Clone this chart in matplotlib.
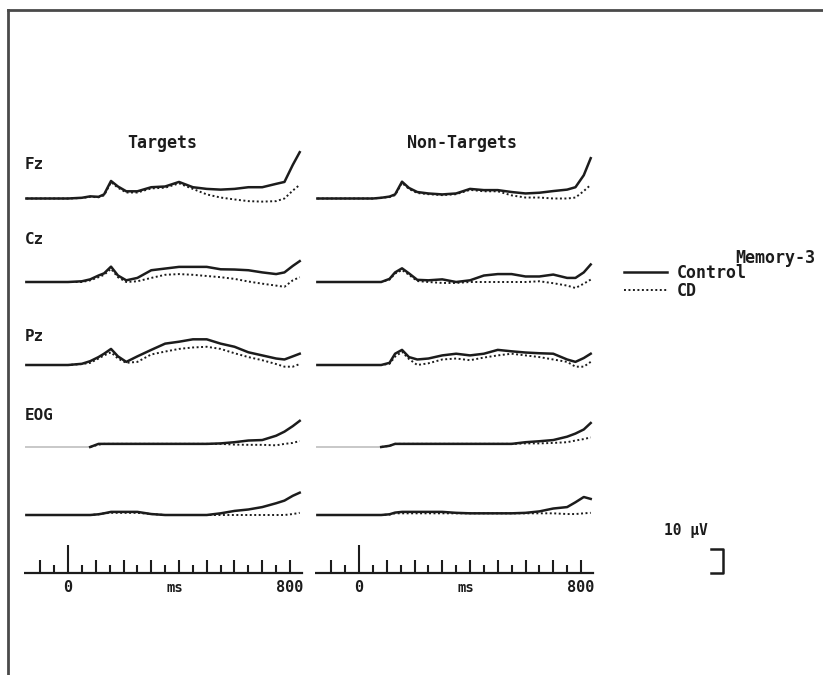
import matplotlib
matplotlib.use("Agg")
import matplotlib.pyplot as plt

W, H, DPI = 823, 675, 100

# sample times (ms)
t = [-150, -100, -50, 0, 50, 80, 110, 130, 155, 180, 210, 250, 300, 350,
     400, 450, 500, 550, 600, 650, 700, 750, 780, 810, 835]

# amplitudes (uV) -- Targets column
fz_tgt_ctrl = [0, 0, 0, 0, 0.3, 0.9, 0.7, 1.7, 7.3, 5.0, 3.0, 3.0, 4.7, 5.0,
               6.9, 4.7, 4.0, 3.7, 4.0, 4.7, 4.7, 6.1, 6.9, 14.0, 19.3]
fz_tgt_cd = [0, 0, 0, 0, 0.2, 0.7, 0.5, 1.3, 6.8, 4.5, 2.5, 2.5, 4.2, 4.5,
             6.3, 4.0, 1.7, 0.4, -0.4, -1.1, -1.3, -1.1, 0.0, 3.3, 5.7]
cz_tgt_ctrl = [0, 0, 0, 0, 0.3, 1.1, 2.7, 3.6, 6.4, 2.7, 0.7, 1.7, 4.9, 5.6,
               6.3, 6.3, 6.3, 5.3, 5.2, 4.9, 4.0, 3.3, 4.0, 6.7, 8.7]
cz_tgt_cd = [0, 0, 0, 0, 0, 0.7, 2.0, 3.0, 5.5, 2.0, 0, 0.3, 1.7, 3.0,
             3.3, 3.0, 2.5, 2.0, 1.3, 0.2, -0.7, -1.5, -2.0, 0.7, 2.0]
pz_tgt_ctrl = [0, 0, 0, 0, 0.5, 1.6, 3.3, 4.7, 6.7, 3.6, 1.3, 3.6, 6.3, 8.9,
               9.7, 10.7, 10.7, 8.9, 7.6, 5.3, 4.0, 2.7, 2.3, 3.6, 4.7]
pz_tgt_cd = [0, 0, 0, 0, 0.4, 0.9, 2.7, 4.0, 5.3, 2.7, 0.9, 1.3, 4.4, 5.6,
             6.7, 7.3, 7.6, 6.7, 4.9, 3.3, 2.0, 0.4, -0.7, -0.7, 0.4]
eog_tgt_ctrl = [0, 0, 0, 0, 0, 0, 1.3, 1.3, 1.3, 1.3, 1.3, 1.3, 1.3, 1.3,
                1.3, 1.3, 1.3, 1.5, 2.0, 2.7, 2.9, 4.7, 6.4, 8.7, 10.9]
eog_tgt_cd = [0, 0, 0, 0, 0, 0, 1.0, 1.3, 1.3, 1.3, 1.3, 1.3, 1.3, 1.3,
              1.3, 1.3, 1.3, 1.3, 1.0, 0.9, 0.9, 0.7, 1.3, 1.7, 2.5]
eog2_tgt_ctrl = [0, 0, 0, 0, 0, 0, 0.3, 0.7, 1.3, 1.3, 1.3, 1.3, 0.4, 0,
                 0, 0, 0, 0.7, 1.7, 2.3, 3.3, 4.9, 6.0, 8.0, 9.3]
eog2_tgt_cd = [0, 0, 0, 0, 0, 0, 0.3, 0.7, 0.9, 0.9, 0.9, 0.9, 0.4, 0,
               0, 0, 0, 0, 0, 0, 0, 0, 0, 0.4, 0.9]

# Non-Targets column
fz_non_ctrl = [0, 0, 0, 0, 0, 0.3, 0.8, 1.7, 7.0, 4.4, 2.7, 2.1, 1.7, 2.1,
               4.0, 3.5, 3.5, 2.7, 2.1, 2.4, 3.1, 3.7, 4.7, 9.7, 16.8]
fz_non_cd = [0, 0, 0, 0, 0, 0.3, 0.6, 1.4, 6.5, 4.0, 2.3, 1.8, 1.4, 1.8,
             3.6, 3.0, 3.0, 1.3, 0.4, 0.4, 0, 0, 0.4, 3.1, 5.7]
cz_non_ctrl = [0, 0, 0, 0, 0, 0, 1.3, 4.0, 5.7, 3.6, 0.9, 0.7, 1.1, 0,
               0.7, 2.7, 3.3, 3.3, 2.3, 2.3, 3.1, 1.7, 1.7, 4.0, 7.3]
cz_non_cd = [0, 0, 0, 0, 0, 0, 1.0, 3.5, 5.0, 3.0, 0.4, 0, -0.4, -0.4,
             0, 0, 0, 0, 0, 0.3, -0.5, -1.5, -2.5, -0.7, 1.0]
pz_non_ctrl = [0, 0, 0, 0, 0, 0, 0.9, 4.7, 6.3, 3.3, 2.3, 2.7, 4.0, 4.7,
               4.0, 4.7, 6.3, 5.7, 5.2, 4.9, 4.7, 2.3, 1.3, 2.9, 4.7]
pz_non_cd = [0, 0, 0, 0, 0, 0, 0.5, 3.5, 5.5, 2.5, 0, 0.7, 2.3, 2.7,
             2.0, 3.1, 4.0, 4.7, 4.0, 3.3, 2.3, 1.3, -0.7, -0.7, 1.3]
eog_non_ctrl = [0, 0, 0, 0, 0, 0, 0.5, 1.3, 1.3, 1.3, 1.3, 1.3, 1.3, 1.3,
                1.3, 1.3, 1.3, 1.3, 2.0, 2.4, 2.9, 4.3, 5.6, 7.3, 10.0]
eog_non_cd = [0, 0, 0, 0, 0, 0, 0.5, 1.3, 1.3, 1.3, 1.3, 1.3, 1.3, 1.3,
              1.3, 1.3, 1.3, 1.3, 1.5, 1.5, 1.7, 2.0, 2.7, 3.3, 4.0]
eog2_non_ctrl = [0, 0, 0, 0, 0, 0, 0.3, 1.0, 1.3, 1.3, 1.3, 1.3, 1.3, 0.9,
                 0.7, 0.7, 0.7, 0.7, 0.9, 1.5, 2.7, 3.3, 5.3, 7.5, 6.7]
eog2_non_cd = [0, 0, 0, 0, 0, 0, 0.2, 0.7, 0.7, 0.7, 0.7, 0.7, 0.7, 0.7,
               0.7, 0.7, 0.7, 0.7, 0.7, 0.7, 0.7, 0.4, 0.4, 0.7, 0.9]

row_labels = ["Fz", "Cz", "Pz", "EOG", ""]
col_titles = ["Targets", "Non-Targets"]
groups = ["Control", "CD"]
panel_title = "Memory-3"
tick_times = list(range(-100, 801, 50))
axis_span = [-155, 843]
scale_uv = 10

columns = [
    [(fz_tgt_ctrl, fz_tgt_cd), (cz_tgt_ctrl, cz_tgt_cd), (pz_tgt_ctrl, pz_tgt_cd),
     (eog_tgt_ctrl, eog_tgt_cd), (eog2_tgt_ctrl, eog2_tgt_cd)],
    [(fz_non_ctrl, fz_non_cd), (cz_non_ctrl, cz_non_cd), (pz_non_ctrl, pz_non_cd),
     (eog_non_ctrl, eog_non_cd), (eog2_non_ctrl, eog2_non_cd)],
]

# layout (pixels)
px_ms = 0.2775
px_uv = 2.4
zero_x = [68, 359]
baselines = [198.5, 282, 365, 447, 515]
label_uv = [14, 17.5, 11.7, 13, 0]
time_axis_y = 573
t_lo, t_hi = -160, 850
uv_lo, uv_hi = -8, 26
# the first EOG trace is printed faintly before the stimulus response
faint_before = [None, None, None, 80, None]

ink = "#1c1c1c"
font = dict(family="DejaVu Sans Mono", weight="bold", color=ink)

fig = plt.figure(figsize=(W / DPI, H / DPI), dpi=DPI)


def px_axes(x0, x1, ytop, ybot):
    ax = fig.add_axes([x0 / W, 1 - ybot / H, (x1 - x0) / W, (ybot - ytop) / H])
    ax.set_axis_off()
    ax.patch.set_alpha(0)
    return ax


# page frame
bg = fig.add_axes([8 / W, 0, 1 - 8 / W, (H - 10) / H])
bg.set_xticks([])
bg.set_yticks([])
bg.patch.set_alpha(0)
for side in ["right", "bottom"]:
    bg.spines[side].set_visible(False)
for side in ["left", "top"]:
    bg.spines[side].set_color("#4a4a4a")
    bg.spines[side].set_linewidth(2)

handles = None
for c, rows in enumerate(columns):
    x0 = zero_x[c] + t_lo * px_ms
    x1 = zero_x[c] + t_hi * px_ms
    for r, (ctrl, cd) in enumerate(rows):
        base = baselines[r]
        ax = px_axes(x0, x1, base - uv_hi * px_uv, base - uv_lo * px_uv)
        ax.set_xlim(t_lo, t_hi)
        ax.set_ylim(uv_lo, uv_hi)
        if faint_before[r] is None:
            l1, = ax.plot(t, ctrl, color=ink, lw=1.8)
            l2, = ax.plot(t, cd, color=ink, lw=1.4, linestyle=(0, (1, 1.3)))
        else:
            k = t.index(faint_before[r])
            ax.plot(t[:k + 1], ctrl[:k + 1], color="#c8c8c8", lw=1.4)
            l1, = ax.plot(t[k:], ctrl[k:], color=ink, lw=1.8)
            l2, = ax.plot(t[k:], cd[k:], color=ink, lw=1.4, linestyle=(0, (1, 1.3)))
        handles = [l1, l2]
        if c == 0 and row_labels[r]:
            ax.text(-155, label_uv[r], row_labels[r], ha="left", va="center",
                    fontsize=11.5, **font)
        if r == 0:
            ax.text(340 if c == 0 else 372, 23, col_titles[c], ha="center",
                    va="center", fontsize=12, **font)

    # time axis
    tax = px_axes(x0, x1, time_axis_y - 35, time_axis_y + 25)
    tax.set_xlim(t_lo, t_hi)
    tax.set_ylim(-25, 35)
    tax.plot(axis_span, [0, 0], color=ink, lw=1.6)
    heights = [28 if tt == 0 else (13 if tt % 100 == 0 else 8) for tt in tick_times]
    tax.vlines(tick_times, 0, heights, color=ink, lw=1.5)
    tax.text(0, -15, "0", ha="center", va="center", fontsize=11, **font)
    tax.text(385, -15, "ms", ha="center", va="center", fontsize=10, **font)
    tax.text(800, -15, "800", ha="center", va="center", fontsize=11, **font)

# legend
fig.legend(handles, groups, loc="upper left",
           bbox_to_anchor=(612 / W, 1 - 252 / H), frameon=False,
           prop=dict(family="DejaVu Sans Mono", weight="bold", size=12),
           handlelength=2.6, handletextpad=0.6, labelspacing=0.0,
           borderpad=0.2, labelcolor=ink)
fig.text(735 / W, 1 - 258 / H, panel_title, ha="left", va="center",
         fontsize=12, **font)

# calibration bracket
sax = px_axes(700, 730, time_axis_y - 12 * px_uv, time_axis_y + 2 * px_uv)
sax.set_xlim(0, 30)
sax.set_ylim(-2, 12)
sax.plot([11, 22.5, 22.5, 11], [scale_uv, scale_uv, 0, 0], color=ink, lw=1.8)
sax.text(-14, 17.9, f"{scale_uv} µV", ha="center", va="center",
         fontsize=10.5, clip_on=False, **font)

fig.savefig("out.png", dpi=DPI)
